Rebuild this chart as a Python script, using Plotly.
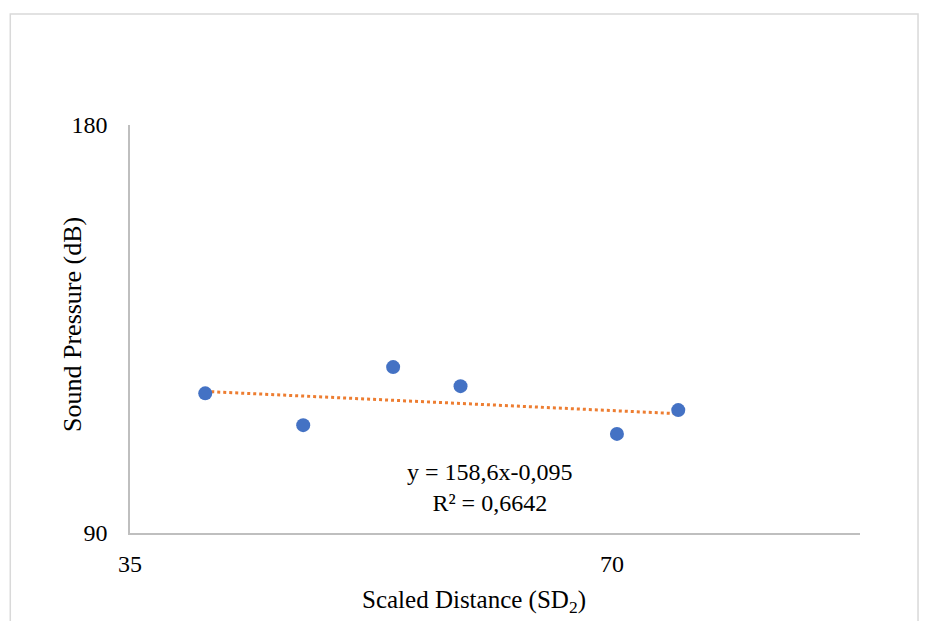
import numpy as np
import plotly.graph_objects as go

# Data (log-base-2 axes)
scaled_distance = [39.0, 44.9, 51.1, 56.3, 70.5, 77.0]
sound_pressure = [114.1, 108.1, 119.3, 115.5, 106.5, 110.9]
x_ticks = [35, 70]
y_ticks = [90, 180]
x_range = [35, 100]
y_range = [90, 180]
eq_text = "y = 158,6x-0,095<br>R² = 0,6642"
x_title = "Scaled Distance (SD<sub>2</sub>)"
y_title = "Sound Pressure (dB)"

# Power trendline fitted in log space
lx = np.log(scaled_distance)
ly = np.log(sound_pressure)
b, a = np.polyfit(lx, ly, 1)
tx = np.linspace(min(scaled_distance), max(scaled_distance), 50)
ty = np.exp(a) * tx ** b

FONT = "Liberation Serif, Times New Roman, serif"
FS = 24

fig = go.Figure()
fig.add_trace(go.Scatter(
    x=tx, y=ty, mode="lines",
    line=dict(color="#ED7D31", width=3, dash="dot"),
    showlegend=False, hoverinfo="skip"))
fig.add_trace(go.Scatter(
    x=scaled_distance, y=sound_pressure, mode="markers",
    marker=dict(color="#4472C4", size=14),
    showlegend=False))

fig.update_layout(
    width=928, height=621,
    margin=dict(l=130, r=68, t=125, b=88),
    paper_bgcolor="white", plot_bgcolor="white",
    font=dict(family=FONT, size=FS, color="black"),
    xaxis=dict(
        type="log", range=[np.log10(x_range[0]), np.log10(x_range[1])],
        tickvals=x_ticks, ticktext=[str(v) for v in x_ticks],
        showgrid=False, zeroline=False,
        showline=True, linecolor="#BFBFBF", linewidth=1.5,
        ticks="", ticklabelstandoff=8,
        tickfont=dict(family=FONT, size=FS),
    ),
    yaxis=dict(
        type="log", range=[np.log10(y_range[0]), np.log10(y_range[1])],
        tickvals=y_ticks, ticktext=[str(v) for v in y_ticks],
        showgrid=False, zeroline=False,
        showline=True, linecolor="#BFBFBF", linewidth=1.5,
        ticks="", ticklabelstandoff=16,
        tickfont=dict(family=FONT, size=FS),
    ),
    annotations=[
        dict(x=np.log10(58.7), y=np.log10(97.3), xref="x", yref="y",
             text=eq_text, showarrow=False, align="center",
             font=dict(family=FONT, size=FS, color="black")),
        dict(x=0.471, y=-0.1667, xref="paper", yref="paper",
             text=x_title, showarrow=False, xanchor="center", yanchor="middle",
             font=dict(family=FONT, size=FS + 1, color="black")),
        dict(x=-0.078, y=0.51, xref="paper", yref="paper",
             text=y_title, showarrow=False, textangle=-90,
             xanchor="center", yanchor="middle",
             font=dict(family=FONT, size=FS + 2, color="black")),
    ],
    shapes=[dict(type="rect", xref="paper", yref="paper",
                 x0=-0.164, x1=1.0795, y0=-0.3, y1=1.272,
                 line=dict(color="#D9D9D9", width=1.5), layer="below")],
)

fig.write_html("out.html")
